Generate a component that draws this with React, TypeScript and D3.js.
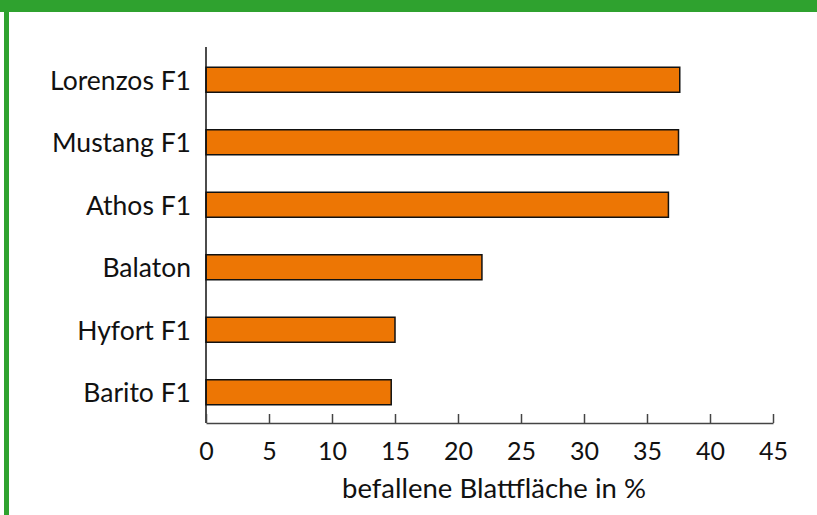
import React, { useEffect, useRef } from 'react';
import * as d3 from 'd3';

const varieties = ['Lorenzos F1', 'Mustang F1', 'Athos F1', 'Balaton', 'Hyfort F1', 'Barito F1'];
const infested = [37.6, 37.5, 36.7, 21.9, 15.0, 14.7];
const xTicks = [0, 5, 10, 15, 20, 25, 30, 35, 40, 45];
const xTitle = 'befallene Blattfläche in %';

const FONT = 'Lato, "Open Sans", sans-serif';

export default function App() {
  const ref = useRef<SVGSVGElement>(null);

  useEffect(() => {
    const width = 817;
    const height = 515;
    const svg = d3.select(ref.current);
    svg.selectAll('*').remove();
    svg.attr('width', width).attr('height', height);

    // frame: green header band and left border
    svg.append('rect').attr('x', 0).attr('y', 0).attr('width', width).attr('height', 12).attr('fill', '#2fa22f');
    svg.append('rect').attr('x', 4).attr('y', 0).attr('width', 5).attr('height', height).attr('fill', '#2fa22f');

    const x = d3.scaleLinear().domain([0, 45]).range([206, 773]);
    const y = d3
      .scaleBand()
      .domain(varieties)
      .range([48.5, 423.5])
      .paddingInner(0.6)
      .paddingOuter(0.3);

    const g = svg.append('g');

    g.selectAll('.bar')
      .data(varieties)
      .enter()
      .append('rect')
      .attr('class', 'bar')
      .attr('x', x(0))
      .attr('y', (d) => y(d))
      .attr('width', (d, i) => x(infested[i]) - x(0))
      .attr('height', y.bandwidth())
      .attr('fill', '#ed7604')
      .attr('stroke', '#111')
      .attr('stroke-width', 1.5);

    // category labels
    g.selectAll('.lbl')
      .data(varieties)
      .enter()
      .append('text')
      .attr('x', 191)
      .attr('y', (d) => y(d) + y.bandwidth() / 2 + 10)
      .attr('text-anchor', 'end')
      .attr('font-family', FONT)
      .attr('font-size', 26.5)
      .attr('fill', '#111')
      .text((d) => d);

    // vertical axis line
    g.append('line')
      .attr('x1', x(0)).attr('x2', x(0))
      .attr('y1', 47).attr('y2', 423)
      .attr('stroke', '#111').attr('stroke-width', 1.5);

    // x axis with inward ticks
    const xAxis = d3.axisBottom(x).tickValues(xTicks).tickSize(-9).tickSizeOuter(0).tickPadding(19);
    const ax = g.append('g').attr('transform', 'translate(0,423)').call(xAxis);
    ax.select('.domain').attr('stroke', '#444').attr('stroke-width', 1.5);
    ax.selectAll('.tick line').attr('stroke', '#444').attr('stroke-width', 1.5);
    ax.selectAll('.tick text')
      .attr('font-family', FONT)
      .attr('font-size', 25)
      .attr('fill', '#111');

    svg.append('text')
      .attr('x', 494)
      .attr('y', 498)
      .attr('text-anchor', 'middle')
      .attr('font-family', FONT)
      .attr('font-size', 27.5)
      .attr('fill', '#111')
      .text(xTitle);
  }, []);

  return (
    <div style={{ position: 'absolute', left: 0, top: 0 }}>
      <svg ref={ref} style={{ display: 'block' }}></svg>
    </div>
  );
}
